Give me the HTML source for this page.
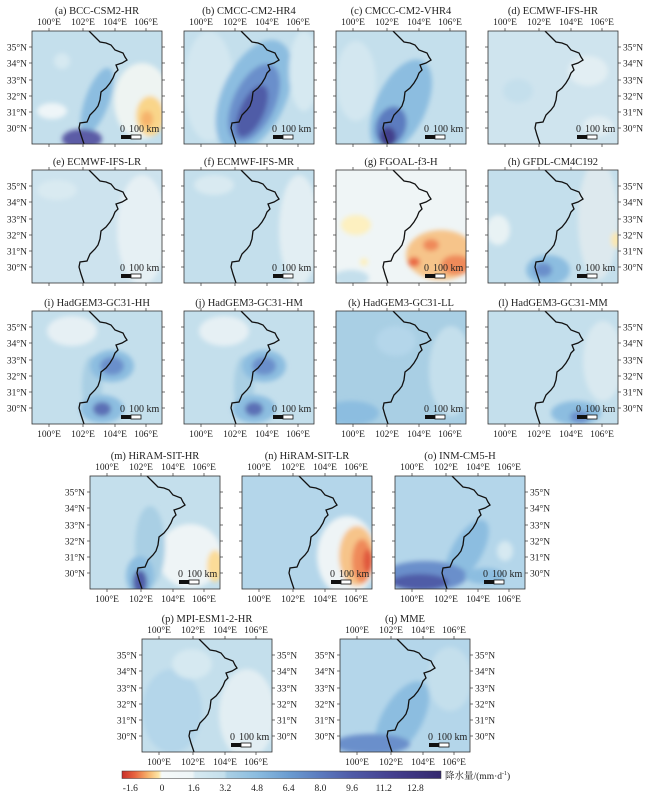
<!DOCTYPE html>
<html><head><meta charset="utf-8"><style>
html,body{margin:0;padding:0;background:#fff;}
svg text{font-family:"Liberation Serif","Noto Serif CJK SC",serif;fill:#222;}
</style></head><body>
<svg id="s" width="650" height="794" xmlns="http://www.w3.org/2000/svg">
<defs>
<filter id="bl" x="-10%" y="-10%" width="120%" height="120%"><feGaussianBlur stdDeviation="2.5"/></filter>
<linearGradient id="cb" x1="0" x2="1" y1="0" y2="0">
<stop offset="0" stop-color="#c8302a"/><stop offset="0.04" stop-color="#e8643f"/>
<stop offset="0.08" stop-color="#f6b06a"/><stop offset="0.115" stop-color="#fde6a6"/>
<stop offset="0.125" stop-color="#f5f9f9"/><stop offset="0.22" stop-color="#eef5f7"/>
<stop offset="0.23" stop-color="#d6e9f1"/><stop offset="0.32" stop-color="#c4dfec"/>
<stop offset="0.33" stop-color="#a9cfe4"/><stop offset="0.42" stop-color="#8cbde0"/>
<stop offset="0.52" stop-color="#6b9dd1"/><stop offset="0.62" stop-color="#5b7bbf"/>
<stop offset="0.72" stop-color="#4f5ba7"/><stop offset="0.85" stop-color="#443f8e"/>
<stop offset="1" stop-color="#34296e"/>
</linearGradient>
</defs>
</svg>
<script>
var S=document.getElementById('s'),ns='http://www.w3.org/2000/svg',h='';
var W=130,H=113;
var border="M57,0 L63,6 L68,11 L74,12 L79,14 L83,19 L91,22 L93,26 L95,29 L90,32 L84,34 L86,39 L83,42 L81,47 L78,52 L74,57 L69,61 L68,69 L66,75 L63,79 L58,84 L55,91 L48,92 L47,97 L49,104 L52,113";
var P=[
['(a) BCC-CSM2-HR',32,31,'#c4dfec',[[20,80,15,8,'#eef5f8'],[110,70,28,38,'#eef4f2'],[65,70,12,35,'#8cbde0',20],[50,108,20,10,'#5b5ba6'],[118,85,14,20,'#f9d58a'],[115,88,6,8,'#f6b36c'],[30,30,8,8,'#d6e9f1']],'tl'],
['(b) CMCC-CM2-HR4',184,31,'#c4dfec',[[25,55,25,55,'#d3e7f0'],[70,65,32,60,'#8cbde0',25],[70,72,21,42,'#6b8fcb',25],[68,80,12,28,'#4f5ba7',25],[120,40,15,40,'#d6e9f1']],'t'],
['(c) CMCC-CM2-VHR4',336,31,'#c4dfec',[[20,50,20,40,'#d3e7f0'],[65,75,25,50,'#8cbde0',25],[55,95,15,20,'#5b7bbf',20],[52,106,8,10,'#433f8c']],'t'],
['(d) ECMWF-IFS-HR',488,31,'#cfe4ee',[[100,40,20,15,'#e2eef3'],[110,95,15,10,'#e2eef3'],[30,60,15,12,'#c4dfec']],'tr'],
['(e) ECMWF-IFS-LR',32,170,'#cde3ee',[[110,60,25,55,'#e6f0f4'],[25,20,20,10,'#d9eaf1']],'l'],
['(f) ECMWF-IFS-MR',184,170,'#c4dfec',[[115,60,20,55,'#e2eef3'],[30,15,20,10,'#d9eaf1']],''],
['(g) FGOAL-f3-H',336,170,'#eff5f6',[[20,55,15,10,'#fdf0c0'],[105,85,35,25,'#f6c48a'],[95,75,8,6,'#ef8a5a'],[78,92,6,5,'#ea6a45'],[120,95,15,10,'#ef8a5a'],[15,108,18,8,'#c4dfec'],[28,92,4,4,'#fdf0c0']],''],
['(h) GFDL-CM4C192',488,170,'#c4dfec',[[110,50,20,60,'#dde9ee'],[10,60,12,15,'#e8f2f4'],[128,70,5,8,'#fbe8b0'],[60,100,22,15,'#8cbde0'],[55,100,9,7,'#6b8fcb']],'r'],
['(i) HadGEM3-GC31-HH',32,311,'#c4dfec',[[40,20,25,15,'#e6f0f4'],[60,75,10,30,'#a9cfe4'],[80,55,22,16,'#8cbde0'],[80,55,12,9,'#6b8fcb'],[70,98,22,14,'#8cbde0'],[70,98,9,7,'#5b6fb5']],'lb'],
['(j) HadGEM3-GC31-HM',184,311,'#c4dfec',[[40,20,25,15,'#e6f0f4'],[60,75,10,30,'#a9cfe4'],[80,55,22,16,'#8cbde0'],[80,55,12,9,'#6b8fcb'],[70,98,22,14,'#8cbde0'],[70,98,9,7,'#5b6fb5']],'b'],
['(k) HadGEM3-GC31-LL',336,311,'#a9cfe4',[[15,102,28,12,'#8cbde0'],[115,60,22,45,'#c4dfec'],[60,30,20,15,'#b4d6ea']],'b'],
['(l) HadGEM3-GC31-MM',488,311,'#c4dfec',[[115,50,20,40,'#d9e9f0'],[88,102,25,12,'#8cbde0'],[92,106,10,6,'#6b8fcb']],'rb'],
['(m) HiRAM-SIT-HR',90,476,'#c4dfec',[[100,80,32,32,'#eef4f6'],[60,70,15,40,'#a9cfe4'],[50,100,14,20,'#8cbde0'],[50,106,7,12,'#4f5ba7'],[125,90,8,16,'#fbdc98']],'tlb'],
['(n) HiRAM-SIT-LR',242,476,'#b4d6ea',[[105,80,30,40,'#eef4f6'],[115,80,18,30,'#f6c48a'],[120,85,10,22,'#ef8a5a'],[126,85,5,12,'#e0583c']],'tb'],
['(o) INM-CM5-H',395,476,'#b4d6ea',[[72,75,15,35,'#8cbde0',30],[30,100,42,15,'#6b8fcb'],[25,106,28,8,'#4f5ba7'],[110,75,8,10,'#d6e9f1'],[90,100,20,8,'#8cbde0']],'trb'],
['(p) MPI-ESM1-2-HR',142,639,'#c4dfec',[[30,72,30,42,'#b4d6ea'],[105,75,28,45,'#e2eef3'],[50,25,20,15,'#d6e9f1']],'tlrb'],
['(q) MME',340,639,'#b4d6ea',[[110,40,22,32,'#c4dfec'],[62,80,20,42,'#8cbde0',30],[32,105,38,10,'#6b8fcb']],'tlrb']
];
var lon=['100°E','102°E','104°E','106°E'],lx=[17,51,83,114];
var lat=['35°N','34°N','33°N','32°N','31°N','30°N'],ly=[16,32,49,65,81,97];
P.forEach(function(p,i){
 var x=p[1],y=p[2],f=p[5];
 h+='<clipPath id="c'+i+'"><rect x="0" y="0" width="'+W+'" height="'+H+'"/></clipPath>';
 h+='<g transform="translate('+x+','+y+')">';
 h+='<g clip-path="url(#c'+i+')"><rect x="-5" y="-5" width="140" height="123" fill="'+p[3]+'"/><g filter="url(#bl)">';
 p[4].forEach(function(e){h+='<ellipse cx="'+e[0]+'" cy="'+e[1]+'" rx="'+e[2]+'" ry="'+e[3]+'" fill="'+e[4]+'"'+(e[5]?' transform="rotate('+e[5]+' '+e[0]+' '+e[1]+')"':'')+'/>';});
 h+='</g><path d="'+border+'" fill="none" stroke="#111" stroke-width="1.3"/></g>';
 h+='<rect x="0" y="0" width="'+W+'" height="'+H+'" fill="none" stroke="#333" stroke-width="0.8"/>';
 // ticks
 lx.forEach(function(t){h+='<line x1="'+t+'" y1="0" x2="'+t+'" y2="-3" stroke="#333" stroke-width="0.7"/><line x1="'+t+'" y1="'+H+'" x2="'+t+'" y2="'+(H+3)+'" stroke="#333" stroke-width="0.7"/>';});
 ly.forEach(function(t){h+='<line x1="0" y1="'+t+'" x2="-3" y2="'+t+'" stroke="#333" stroke-width="0.7"/><line x1="'+W+'" y1="'+t+'" x2="'+(W+3)+'" y2="'+t+'" stroke="#333" stroke-width="0.7"/>';});
 // scale bar
 h+='<text x="88" y="101" font-size="10">0</text><text x="97" y="101" font-size="10">100 km</text>';
 h+='<rect x="89" y="104" width="10" height="4" fill="#111"/><rect x="99" y="104" width="10" height="4" fill="#fff" stroke="#111" stroke-width="0.8"/>';
 // title
 h+='<text x="'+(W/2)+'" y="'+(f.indexOf('t')>=0?-17:-5)+'" font-size="10.5" text-anchor="middle">'+p[0]+'</text>';
 if(f.indexOf('t')>=0) lon.forEach(function(s,k){h+='<text x="'+lx[k]+'" y="-6" font-size="9.5" text-anchor="middle">'+s+'</text>';});
 if(f.indexOf('b')>=0) lon.forEach(function(s,k){h+='<text x="'+lx[k]+'" y="'+(H+13)+'" font-size="9.5" text-anchor="middle">'+s+'</text>';});
 if(f.indexOf('l')>=0) lat.forEach(function(s,k){h+='<text x="-5" y="'+(ly[k]+3.5)+'" font-size="9.5" text-anchor="end">'+s+'</text>';});
 if(f.indexOf('r')>=0) lat.forEach(function(s,k){h+='<text x="'+(W+5)+'" y="'+(ly[k]+3.5)+'" font-size="9.5">'+s+'</text>';});
 h+='</g>';
});
// colorbar
h+='<rect x="122" y="771" width="319" height="7.5" fill="url(#cb)" stroke="#333" stroke-width="0.5"/>';
var cv=['-1.6','0','1.6','3.2','4.8','6.4','8.0','9.6','11.2','12.8'];
cv.forEach(function(v){var xx=162+parseFloat(v)*19.8;h+='<text x="'+xx+'" y="791" font-size="9.5" text-anchor="middle">'+v+'</text>';});
h+='<text x="445" y="779" font-size="9.5">降水量/(mm·d<tspan font-size="6" dy="-4">-1</tspan><tspan dy="4">)</tspan></text>';
S.insertAdjacentHTML('beforeend',h);
</script>
</body></html>
